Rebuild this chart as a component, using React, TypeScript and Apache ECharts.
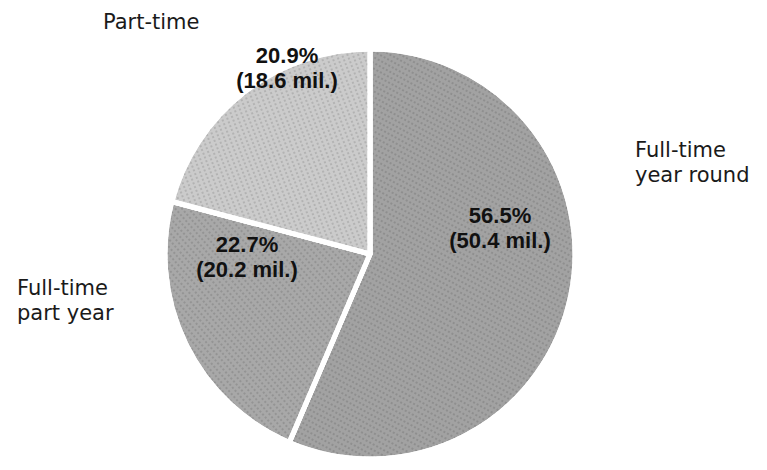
import { useEffect, useRef } from "react";
import * as echarts from "echarts";

// Workers by work-experience group
const categories = ["Full-time\nyear round", "Full-time\npart year", "Part-time"];
const shares = [56.5, 22.7, 20.9]; // percent of all workers
const millions = [50.4, 20.2, 18.6]; // workers, millions

// Slice tones (stippled greys)
const sliceColors = ["#a2a2a2", "#a8a8a8", "#cbcbcb"];

// Label anchor points in pixels (value labels centred, name labels left-aligned)
const valueLabelPos: [number, number][] = [
  [500, 228],
  [247, 257],
  [287, 68],
];
const nameLabelPos: [number, number][] = [
  [635, 162],
  [17, 300],
  [103, 22],
];

export default function App() {
  const ref = useRef<HTMLDivElement>(null);

  useEffect(() => {
    const chart = echarts.init(ref.current!, null, { renderer: "svg" });
    const data = categories.map((name, i) => ({
      name,
      value: shares[i],
      itemStyle: {
        color: sliceColors[i],
        decal: {
          symbol: "circle",
          symbolSize: 0.7,
          color: "rgba(0,0,0,0.3)",
          dashArrayX: [2, 2],
          dashArrayY: [2, 3],
          rotation: 0.5 + i * 0.35,
        },
      },
    }));

    const center = [370, 254];
    const radius = 205;

    chart.setOption({
      animation: false,
      backgroundColor: "#ffffff",
      series: [
        {
          type: "pie",
          center,
          radius: [0, radius],
          startAngle: 90,
          clockwise: true,
          avoidLabelOverlap: false,
          silent: true,
          itemStyle: { borderColor: "#ffffff", borderWidth: 5 },
          data,
          label: {
            show: true,
            position: "inside",
            formatter: (p: any) =>
              `${shares[p.dataIndex].toFixed(1)}%\n(${millions[p.dataIndex].toFixed(1)} mil.)`,
            fontFamily: "Liberation Sans",
            fontWeight: "bold",
            fontSize: 22,
            lineHeight: 25,
            color: "#111111",
            align: "center",
            verticalAlign: "middle",
          },
          labelLine: { show: false },
          labelLayout: (p: any) => ({
            x: valueLabelPos[p.dataIndex][0],
            y: valueLabelPos[p.dataIndex][1],
            align: "center",
            verticalAlign: "middle",
          }),
        },
        {
          type: "pie",
          center,
          radius: [0, radius],
          startAngle: 90,
          clockwise: true,
          avoidLabelOverlap: false,
          silent: true,
          itemStyle: { color: "rgba(0,0,0,0)", borderWidth: 0 },
          data: categories.map((name, i) => ({ name, value: shares[i] })),
          label: {
            show: true,
            position: "outside",
            formatter: "{b}",
            fontFamily: "DejaVu Sans",
            fontSize: 21,
            lineHeight: 25,
            color: "#1a1a1a",
            align: "left",
          },
          labelLine: { show: false },
          labelLayout: (p: any) => ({
            x: nameLabelPos[p.dataIndex][0],
            y: nameLabelPos[p.dataIndex][1],
            align: "left",
            verticalAlign: "middle",
          }),
        },
      ],
    });
    return () => chart.dispose();
  }, []);

  return (
    <div
      ref={ref}
      style={{ position: "absolute", left: 0, top: 0, width: 767, height: 470 }}
    />
  );
}
